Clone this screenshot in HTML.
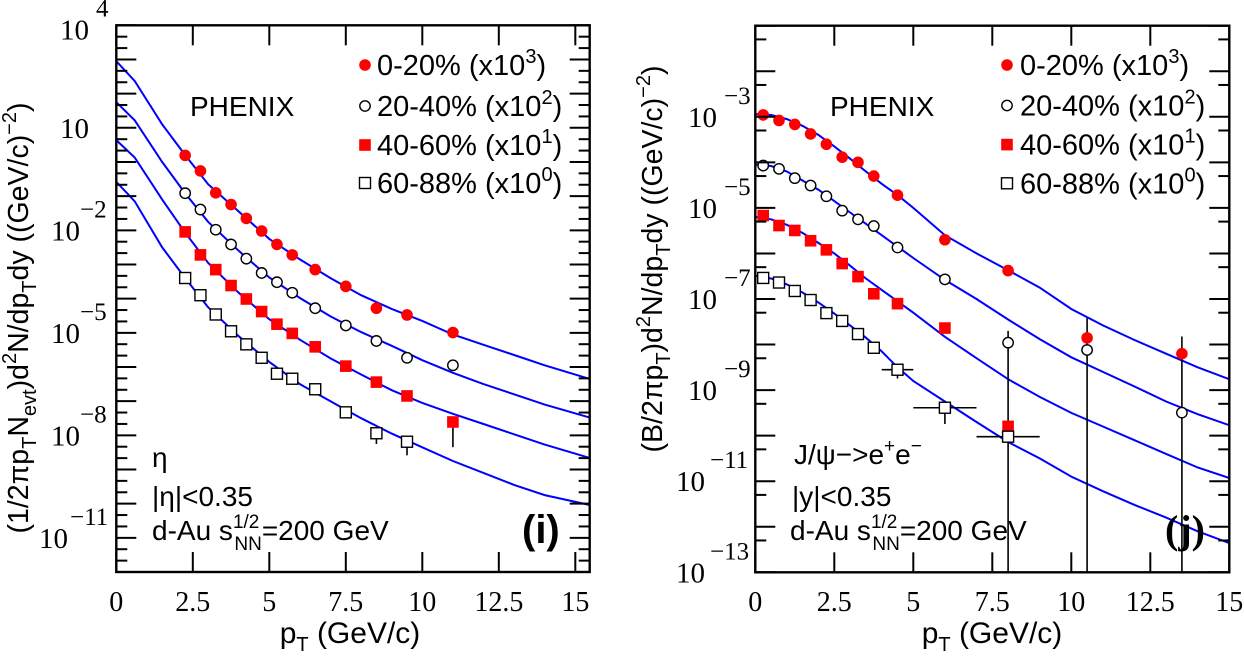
<!DOCTYPE html>
<html><head><meta charset="utf-8"><style>
html,body{margin:0;padding:0;background:#fff;}
svg{display:block;}
.sans{font-family:"Liberation Sans",sans-serif;}
.serif{font-family:"Liberation Serif",serif;}
</style></head><body>
<svg id="fig" width="1244" height="657" viewBox="0 0 1244 657" xmlns="http://www.w3.org/2000/svg"></svg>
<script>
// ---------- LEFT PANEL (eta) data ----------
const ptEtaA = [2.25,2.75,3.25,3.75,4.25,4.75,5.25,5.75,6.5,7.5,8.5,9.5,11];
const etaCent0 = [1.56,0.546,0.125,0.0568,0.0223,0.00955,0.00386,0.00191,7.08e-4,2.29e-4,5.25e-5,3.33e-5,1.02e-5];
const etaCent1 = [0.122,0.0405,0.0104,0.00386,0.00148,5.65e-4,3.03e-4,1.49e-4,5.25e-5,1.64e-5,5.78e-6,1.86e-6,1.12e-6];
const etaCent2 = [9.0e-3,1.91e-3,7.08e-4,2.42e-4,9.77e-5,4.19e-5,1.79e-5,9.62e-6,3.89e-6,1.06e-6,3.61e-7,1.42e-7,2.46e-8];
const ptEtaB = [2.25,2.75,3.25,3.75,4.25,4.75,5.25,5.75,6.5,7.5,8.5,9.5];
const etaCent3 = [4.02e-4,1.26e-4,3.44e-5,1.11e-5,4.60e-6,1.86e-6,6.35e-7,4.53e-7,2.23e-7,4.71e-8,1.15e-8,6.50e-9];
const etaErrLoCent2 = [null,null,null,null,null,null,null,null,null,null,null,null,4.5e-9];
const etaErrLoCent3 = [null,null,null,null,null,null,null,null,null,null,5.6e-9,2.6e-9];
const fitEtaPt = [0,0.6,1.5,2.25,3,4,5,6,7,8,9,10,11,12,13,14,15.47];
const fitEtaLog0 = [2.95,2.37,1.1,0.2,-0.65,-1.45,-2.25,-2.85,-3.4,-3.9,-4.3,-4.65,-5.05,-5.35,-5.65,-5.95,-6.35];
const fitEtaLog1 = [1.75,1.22,0.0,-0.92,-1.75,-2.6,-3.38,-3.98,-4.52,-4.98,-5.38,-5.8,-6.17,-6.5,-6.8,-7.1,-7.48];
const fitEtaLog2 = [0.64,0.13,-1.1,-2.07,-2.95,-3.83,-4.6,-5.2,-5.75,-6.22,-6.68,-7.05,-7.37,-7.67,-7.97,-8.27,-8.66];
const fitEtaLog3 = [-0.58,-1.15,-2.5,-3.4,-4.25,-5.1,-5.85,-6.5,-7.0,-7.5,-7.95,-8.35,-8.75,-9.1,-9.45,-9.75,-10.04];
const xTickLabels = ["0","2.5","5","7.5","10","12.5","15"];
const xTickValues = [0,2.5,5,7.5,10,12.5,15];

// ---------- RIGHT PANEL (J/psi) data ----------
const ptPsiA = [0.25,0.75,1.25,1.75,2.25,2.75,3.25,3.75,4.5,6,8,10.5,13.5];
const psiCent0 = [1.1e-3,8.3e-4,6.8e-4,4.2e-4,2.5e-4,1.3e-4,1.0e-4,5.0e-5,1.9e-5,2.0e-6,4.2e-7,1.4e-8,6.3e-9];
const psiCent1 = [8.5e-5,7.2e-5,4.5e-5,3.1e-5,1.8e-5,8.7e-6,5.6e-6,4.0e-6,1.35e-6,2.7e-7,1.1e-8,7.6e-9,3.2e-10];
const psiErrHiCent1 = [null,null,null,null,null,null,null,null,null,null,2.0e-8,3.8e-8,1.5e-8];
const ptPsiB = [0.25,0.75,1.25,1.75,2.25,2.75,3.25,3.75,4.5,6,8];
const psiCent2 = [6.8e-6,4.1e-6,3.2e-6,1.9e-6,1.2e-6,6.0e-7,3.1e-7,1.3e-7,7.9e-8,2.3e-8,1.6e-10];
const psiCent3 = [2.9e-7,2.3e-7,1.5e-7,9.5e-8,4.9e-8,3.3e-8,1.7e-8,8.5e-9,2.8e-9,4.1e-10,9.5e-11];
const psiXErrCent3 = [0,0,0,0,0,0,0,0,0.5,1.0,1.0];
const psiYErrCent3Lo = [null,null,null,null,null,null,null,null,1.8e-9,1.8e-10,null];
const fitPsiPt = [0,0.5,1,1.5,2,2.5,3,3.5,4,4.5,5,6,7,8,9,10,11,12,13,14,15];
const fitPsiLog0 = [-2.94,-2.96,-3.05,-3.2,-3.4,-3.65,-3.92,-4.2,-4.47,-4.72,-5.0,-5.6,-6.0,-6.37,-6.75,-7.22,-7.58,-7.9,-8.2,-8.5,-8.76];
const fitPsiLog1 = [-4.05,-4.08,-4.2,-4.4,-4.6,-4.85,-5.1,-5.35,-5.6,-5.85,-6.1,-6.58,-7.0,-7.45,-7.88,-8.28,-8.6,-8.92,-9.25,-9.53,-9.77];
const fitPsiLog2 = [-5.2,-5.25,-5.37,-5.55,-5.77,-6.0,-6.27,-6.55,-6.8,-7.05,-7.3,-7.83,-8.3,-8.76,-9.15,-9.5,-9.8,-10.1,-10.4,-10.7,-10.93];
const fitPsiLog3 = [-6.49,-6.55,-6.68,-6.86,-7.08,-7.32,-7.58,-7.85,-8.15,-8.5,-8.8,-9.25,-9.7,-10.14,-10.5,-10.9,-11.22,-11.52,-11.8,-12.1,-12.36];

const NS = "http://www.w3.org/2000/svg";
const svg = document.getElementById('fig');
function mk(tag, attrs, parent){
  const e = document.createElementNS(NS, tag);
  for (const k in attrs) e.setAttribute(k, attrs[k]);
  (parent||svg).appendChild(e);
  return e;
}
function panel(P){
  const g = mk('g', {});
  
  
  const X = v => P.x0 + (v - P.xmin) / (P.xmax - P.xmin) * (P.x1 - P.x0);
  const Y = v => P.y1 - (Math.log10(v) - P.dmin) / (P.dmax - P.dmin) * (P.y1 - P.y0);
  const YL = d => P.y1 - (d - P.dmin) / (P.dmax - P.dmin) * (P.y1 - P.y0);
  const clip = mk('clipPath', {id: P.name + '-clip'}, g);
  mk('rect', {x: P.x0, y: P.y0, width: P.x1 - P.x0, height: P.y1 - P.y0}, clip);
  const plot = mk('g', {'clip-path': 'url(#' + P.name + '-clip)'}, g);
  const tk = mk('g', {stroke: '#000', 'stroke-width': 2}, g);
  
  
  xTickValues.forEach(v => {
    const x = X(v);
    mk('line', {x1: x, x2: x, y1: P.y1, y2: P.y1 - 20}, tk);
    mk('line', {x1: x, x2: x, y1: P.y0, y2: P.y0 + 20}, tk);
  });
  for (let d = P.dmin; d <= P.dmax; d++) {
    const y = YL(d);
    mk('line', {x1: P.x0, x2: P.x0 + 20, y1: y, y2: y}, tk);
    mk('line', {x1: P.x1, x2: P.x1 - 20, y1: y, y2: y}, tk);
    P.minor.forEach(m => {
      if (d + m > P.dmax) return;
      const ym = YL(d + m);
      mk('line', {x1: P.x0, x2: P.x0 + 11, y1: ym, y2: ym}, tk);
      mk('line', {x1: P.x1, x2: P.x1 - 11, y1: ym, y2: ym}, tk);
    });
  }
  xTickLabels.forEach((lab, i) => {
    const t = mk('text', {x: X(xTickValues[i]), y: 611, 'text-anchor': 'middle', 'font-size': 28, class: 'serif'}, g);
    t.textContent = lab;
    
    
  });
  P.ylabels.forEach(L => {
    const y = YL(L.d);
    const t = mk('text', {x: L.bx, y: y + 10 + L.dy, 'font-size': 29, class: 'serif'}, g);
    t.textContent = '10';
    
    
    if (L.e) {
      const s = mk('text', {x: L.ex, y: y - 13 + L.dy, 'font-size': 25, class: 'serif'}, g);
      s.textContent = L.e;
      
      
    }
  });
  P.fits.forEach((arr, k) => {
    const pts = arr.map((d, i) => X(P.fitPt[i]).toFixed(1) + ',' + YL(d).toFixed(1)).join(' ');
    const pl = mk('polyline', {points: pts, fill: 'none', stroke: '#0000ff', 'stroke-width': 2}, plot);
    
    
  });
  const eb = mk('g', {stroke: '#000', 'stroke-width': 1.6}, plot);
  
  
  P.errors.forEach(E => {
    E.pt.forEach((p, i) => {
      const v = E.vals[i];
      if (E.lo && E.lo[i] != null) mk('line', {x1: X(p), x2: X(p), y1: Y(v), y2: Y(E.lo[i])}, eb);
      if (E.hiToBottom && E.hiToBottom[i] != null) mk('line', {x1: X(p), x2: X(p), y1: Y(E.hiToBottom[i]), y2: P.y1}, eb);
      if (E.xerr && E.xerr[i] > 0) mk('line', {x1: X(p - E.xerr[i]), x2: X(p + E.xerr[i]), y1: Y(v), y2: Y(v)}, eb);
    });
  });
  P.series.forEach(S => {
    const sg = mk('g', {}, plot);
    
    
    S.pt.forEach((p, i) => {
      const cx = X(p), cy = Y(S.vals[i]);
      let m;
      if (S.type === 'fc') m = mk('circle', {cx, cy, r: 5.8, fill: '#ff0000'}, sg);
      else if (S.type === 'oc') m = mk('circle', {cx, cy, r: 5.2, fill: '#fff', stroke: '#000', 'stroke-width': 1.4}, sg);
      else if (S.type === 'fs') m = mk('rect', {x: cx - 5.8, y: cy - 5.8, width: 11.6, height: 11.6, fill: '#ff0000'}, sg);
      else m = mk('rect', {x: cx - 5.5, y: cy - 5.5, width: 11, height: 11, fill: '#fff', stroke: '#000', 'stroke-width': 1.4}, sg);
      
      
    });
  });
  const fr = mk('rect', {x: P.x0, y: P.y0, width: P.x1 - P.x0, height: P.y1 - P.y0, fill: 'none', stroke: '#000', 'stroke-width': 2.4}, g);
  
  
  const lg = mk('g', {}, g);
  
  
  const legTxt = [['0-20% (x10','3',')'],['20-40% (x10','2',')'],['40-60% (x10','1',')'],['60-88% (x10','0',')']];
  const types = ['fc','oc','fs','os'];
  legTxt.forEach((L, k) => {
    const y = P.legY[k], mx = P.legMX;
    let m;
    if (types[k] === 'fc') m = mk('circle', {cx: mx, cy: y, r: 5.8, fill: '#ff0000'}, lg);
    else if (types[k] === 'oc') m = mk('circle', {cx: mx, cy: y, r: 5.2, fill: '#fff', stroke: '#000', 'stroke-width': 1.4}, lg);
    else if (types[k] === 'fs') m = mk('rect', {x: mx - 5.8, y: y - 5.8, width: 11.6, height: 11.6, fill: '#ff0000'}, lg);
    else m = mk('rect', {x: mx - 5.5, y: y - 5.5, width: 11, height: 11, fill: '#fff', stroke: '#000', 'stroke-width': 1.4}, lg);
    
    
    const t = mk('text', {x: P.legTX, y: y + 10, 'font-size': 29, class: 'sans'}, lg);
    
    
    const a = mk('tspan', {}, t); a.textContent = L[0];
    const b = mk('tspan', {dy: -12, 'font-size': 20}, t); b.textContent = L[1];
    const c = mk('tspan', {dy: 12}, t); c.textContent = L[2];
  });
  return {X, Y, g};
}

const left = panel({
  name: 'eta-panel', x0: 116.3, x1: 589.7, y0: 25.3, y1: 572, xmin: 0, xmax: 15.47, dmin: -12, dmax: 4,
  minor: [0.333, 0.667],
  ylabels: [
    {d: 4, bx: 60, ex: 96, e: '4', dy: 4},
    {d: 1, bx: 60, ex: 0, e: '', dy: 0},
    {d: -2, bx: 51, ex: 80, e: '\u22122', dy: 0},
    {d: -5, bx: 51, ex: 80, e: '\u22125', dy: 0},
    {d: -8, bx: 51, ex: 80, e: '\u22128', dy: 0},
    {d: -11, bx: 39, ex: 70, e: '\u221211', dy: 0}
  ],
  fitPt: fitEtaPt, fits: [fitEtaLog0, fitEtaLog1, fitEtaLog2, fitEtaLog3],
  errors: [
    {pt: ptEtaA, vals: etaCent2, lo: etaErrLoCent2},
    {pt: ptEtaB, vals: etaCent3, lo: etaErrLoCent3}
  ],
  series: [
    {name: 'series-0-20', type: 'fc', pt: ptEtaA, vals: etaCent0},
    {name: 'series-20-40', type: 'oc', pt: ptEtaA, vals: etaCent1},
    {name: 'series-40-60', type: 'fs', pt: ptEtaA, vals: etaCent2},
    {name: 'series-60-88', type: 'os', pt: ptEtaB, vals: etaCent3}
  ],
  legY: [65, 106, 145, 183], legMX: 365, legTX: 377
});

const right = panel({
  name: 'jpsi-panel', x0: 755.3, x1: 1229.3, y0: 25.7, y1: 572.3, xmin: 0, xmax: 15, dmin: -13, dmax: -1,
  minor: [0.699],
  ylabels: [
    {d: -3, bx: 688, ex: 724, e: '\u22123', dy: 0},
    {d: -5, bx: 688, ex: 724, e: '\u22125', dy: 0},
    {d: -7, bx: 688, ex: 724, e: '\u22127', dy: 0},
    {d: -9, bx: 688, ex: 724, e: '\u22129', dy: 0},
    {d: -11, bx: 676, ex: 710, e: '\u221211', dy: 0},
    {d: -13, bx: 676, ex: 710, e: '\u221213', dy: 0}
  ],
  fitPt: fitPsiPt, fits: [fitPsiLog0, fitPsiLog1, fitPsiLog2, fitPsiLog3],
  errors: [
    {pt: ptPsiA, vals: psiCent1, hiToBottom: psiErrHiCent1},
    {pt: ptPsiB, vals: psiCent3, xerr: psiXErrCent3, lo: psiYErrCent3Lo}
  ],
  series: [
    {name: 'series-0-20', type: 'fc', pt: ptPsiA, vals: psiCent0},
    {name: 'series-20-40', type: 'oc', pt: ptPsiA, vals: psiCent1},
    {name: 'series-40-60', type: 'fs', pt: ptPsiB, vals: psiCent2},
    {name: 'series-60-88', type: 'os', pt: ptPsiB, vals: psiCent3}
  ],
  legY: [65, 105.5, 144.6, 183.3], legMX: 1007, legTX: 1020
});

function txt(parent, attrs, name, parts){
  const t = mk('text', attrs, parent);
  
  
  parts.forEach(p => {
    const s = mk('tspan', p[1] || {}, t);
    s.textContent = p[0];
  });
  return t;
}
const SUBD = 8, SUPD = -12;
txt(left.g, {x: 350, y: 643, 'text-anchor': 'middle', 'font-size': 30, class: 'sans'}, 'x-axis-title',
  [['p'], ['T', {dy: SUBD, 'font-size': 20}], [' (GeV/c)', {dy: -SUBD}]]);
txt(right.g, {x: 992, y: 643, 'text-anchor': 'middle', 'font-size': 30, class: 'sans'}, 'x-axis-title',
  [['p'], ['T', {dy: SUBD, 'font-size': 20}], [' (GeV/c)', {dy: -SUBD}]]);
txt(left.g, {x: 0, y: 0, 'text-anchor': 'middle', 'font-size': 28.5, class: 'sans', transform: 'translate(28,318) rotate(-90)'}, 'y-axis-title',
  [['(1/2\u03c0p'], ['T', {dy: SUBD, 'font-size': 20}], ['N', {dy: -SUBD}], ['evt', {dy: SUBD, 'font-size': 20}],
   [')d', {dy: -SUBD}], ['2', {dy: SUPD, 'font-size': 20}], ['N/dp', {dy: -SUPD}], ['T', {dy: SUBD, 'font-size': 20}],
   ['dy ((GeV/c)', {dy: -SUBD}], ['\u22122', {dy: SUPD, 'font-size': 20}], [')', {dy: -SUPD}]]);
txt(right.g, {x: 0, y: 0, 'text-anchor': 'middle', 'font-size': 28.5, class: 'sans', transform: 'translate(662,259) rotate(-90)'}, 'y-axis-title',
  [['(B/2\u03c0p'], ['T', {dy: SUBD, 'font-size': 20}], [')d', {dy: -SUBD}], ['2', {dy: SUPD, 'font-size': 20}],
   ['N/dp', {dy: -SUPD}], ['T', {dy: SUBD, 'font-size': 20}], ['dy ((GeV/c)', {dy: -SUBD}],
   ['\u22122', {dy: SUPD, 'font-size': 20}], [')', {dy: -SUPD}]]);
txt(left.g, {x: 190, y: 116, 'font-size': 28, class: 'sans'}, 'experiment-label', [['PHENIX']]);
txt(right.g, {x: 830, y: 116, 'font-size': 28, class: 'sans'}, 'experiment-label', [['PHENIX']]);
txt(left.g, {x: 152, y: 467, 'font-size': 28, class: 'sans'}, 'particle-label', [['\u03b7']]);
txt(left.g, {x: 152, y: 506, 'font-size': 28, class: 'sans'}, 'rapidity-cut', [['|\u03b7|<0.35']]);
txt(left.g, {x: 152, y: 540, 'font-size': 28, class: 'sans'}, 'collision-label',
  [['d-Au s'], ['1/2', {dy: -12, 'font-size': 19}], ['NN', {dx: -25, dy: 22, 'font-size': 19}], ['=200 GeV', {dy: -10}]]);
txt(left.g, {x: 522, y: 543, 'font-size': 40, 'font-weight': 'bold', class: 'sans'}, 'panel-label', [['(i)']]);
txt(right.g, {x: 794, y: 464, 'font-size': 28, class: 'sans'}, 'particle-label',
  [['J/\u03c8\u2212>e'], ['+', {dy: -12, 'font-size': 19}], ['e', {dy: 12}], ['\u2212', {dy: -12, 'font-size': 19}]]);
txt(right.g, {x: 792, y: 506, 'font-size': 28, class: 'sans'}, 'rapidity-cut', [['|y|<0.35']]);
txt(right.g, {x: 790, y: 540, 'font-size': 28, class: 'sans'}, 'collision-label',
  [['d-Au s'], ['1/2', {dy: -12, 'font-size': 19}], ['NN', {dx: -25, dy: 22, 'font-size': 19}], ['=200 GeV', {dy: -10}]]);
txt(right.g, {x: 1165, y: 543, 'font-size': 40, 'font-weight': 'bold', class: 'serif'}, 'panel-label', [['(j)']]);
</script>
</body></html>
